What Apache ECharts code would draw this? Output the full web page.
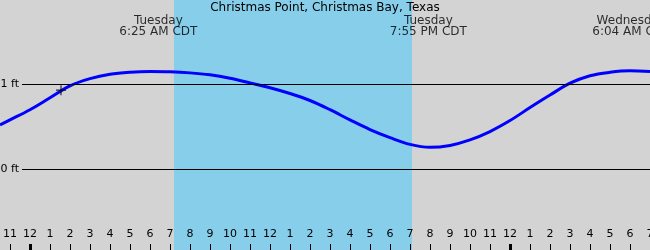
<!DOCTYPE html>
<html><head><meta charset="utf-8">
<script src="https://cdn.jsdelivr.net/npm/echarts@6/dist/echarts.min.js"></script>
<style>html,body{margin:0;padding:0;background:#d3d3d3}#c{width:650px;height:250px}</style>
</head><body><div id="c"></div>
<script>
// hours since Tuesday 00:00 CDT
const tideHours = [-1.5,-1,0,1,2,3,4,5,6,7,8,9,10,11,12,13,14,15,16,17,18,19,20,21,22,23,24,25,26,27,28,29,30,31];
const tideFeet  = [0.52,0.58,0.70,0.84,0.98,1.065,1.117,1.14,1.148,1.145,1.133,1.11,1.07,1.015,0.958,0.89,0.808,0.70,0.58,0.467,0.372,0.292,0.257,0.28,0.345,0.443,0.572,0.725,0.872,1.012,1.1,1.14,1.157,1.15];
const nowPoint = [1.55, 0.93];
const daylight = [7.2, 19.1];
const refLevels = [0, 1];
const refLabels = ['0 ft', '1 ft'];
const tickHours = [-1,0,1,2,3,4,5,6,7,8,9,10,11,12,13,14,15,16,17,18,19,20,21,22,23,24,25,26,27,28,29,30,31];
const tickLabels = ['11','12','1','2','3','4','5','6','7','8','9','10','11','12','1','2','3','4','5','6','7','8','9','10','11','12','1','2','3','4','5','6','7'];
const midnightHours = [0, 24];
const eventHours = [6.417, 19.917, 30.067];
const eventLabels = ['Tuesday\n6:25 AM CDT', 'Tuesday\n7:55 PM CDT', 'Wednesday\n6:04 AM CDT'];
const titleText = 'Christmas Point, Christmas Bay, Texas';

const X_MIN = -1.5, X_MAX = 31, Y_MIN = -0.95, Y_MAX = 1.99;
const FONT = 'DejaVu Sans';
const labelMap = {};
tickHours.forEach((h, i) => labelMap[h] = tickLabels[i]);

const chart = echarts.init(document.getElementById('c'));
chart.setOption({
  animation: false,
  backgroundColor: '#d3d3d3',
  title: { text: titleText, left: 'center', top: 2, padding: 0, textStyle: { fontFamily: FONT, fontSize: 12, fontWeight: 'normal', color: '#000' } },
  grid: { left: 0, right: 0, top: 0, bottom: 0, containLabel: false, outerBoundsMode: 'none' },
  xAxis: {
    type: 'value', min: X_MIN, max: X_MAX, z: 10,
    axisLine: { show: false, onZero: false }, splitLine: { show: false },
    axisTick: { show: false },
    axisLabel: { show: true, inside: true, margin: 10, customValues: tickHours, formatter: v => labelMap[v] ?? '', fontFamily: FONT, fontSize: 11, color: '#000' }
  },
  yAxis: { type: 'value', min: Y_MIN, max: Y_MAX, show: false },
  series: [{
    type: 'line', data: [], z: 1,
    markArea: { silent: true, itemStyle: { color: '#87ceeb', opacity: 1 }, data: [[{ xAxis: daylight[0] }, { xAxis: daylight[1] }]] }
  }, {
    type: 'line', data: [], z: 2,
    markLine: {
      silent: true, symbol: 'none', lineStyle: { color: '#000', width: 1, type: 'solid' },
      label: { position: 'start', distance: 3, color: '#000', fontFamily: FONT, fontSize: 11 },
      data: refLevels.map((v, i) => [{ coord: [-0.4, v], label: { formatter: refLabels[i] } }, { coord: [X_MAX, v] }])
    }
  }, {
    type: 'custom', z: 5, silent: true, clip: false,
    data: tickHours.map(h => [h, midnightHours.includes(h) ? 3 : 1]),
    renderItem: (params, api) => {
      const x = Math.round(api.coord([api.value(0), 0])[0]);
      const cs = params.coordSys;
      const yb = cs.y + cs.height;
      const w = api.value(1);
      return { type: 'rect', shape: { x: x - Math.floor(w / 2), y: yb - 6, width: w, height: 6 }, style: { fill: '#000' } };
    }
  }, {
    type: 'line', z: 3, smooth: 0.35, showSymbol: false,
    lineStyle: { color: '#0000ff', width: 3 },
    data: tideHours.map((h, i) => [h, tideFeet[i]])
  }, {
    type: 'scatter', z: 4, data: [nowPoint],
    symbol: 'path://M4.4,0h1.2v4.4h4.4v1.2h-4.4v4.4h-1.2v-4.4h-4.4v-1.2h4.4z', symbolSize: 10,
    itemStyle: { color: '#000' }
  }, {
    type: 'scatter', z: 4, symbolSize: 0,
    data: eventHours.map((h, i) => ({ value: [h, Y_MAX], label: { formatter: eventLabels[i] } })),
    label: { show: true, position: 'bottom', distance: 15, align: 'center', fontFamily: FONT, fontSize: 12, lineHeight: 11, color: '#000' }
  }]
});
</script></body></html>
